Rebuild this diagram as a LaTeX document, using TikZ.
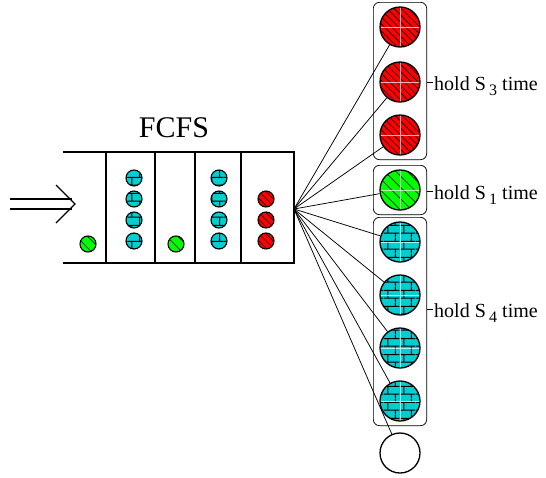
\documentclass[tikz,border=0pt]{standalone}
\usepackage{fontspec}
\setmainfont{Liberation Serif}
\usepackage{xcolor}
\usetikzlibrary{positioning,arrows.meta,patterns,patterns.meta,fit}

\definecolor{hatchred}{RGB}{255,0,0}
\definecolor{hatchgreen}{RGB}{0,255,0}
\definecolor{brickcyan}{RGB}{0,206,209}

% xfig-like brick fill
\tikzdeclarepattern{
  name=brickwall,
  type=uncolored,
  bottom left={(0pt,0pt)},
  top right={(16pt,16pt)},
  tile size={(16pt,16pt)},
  code={
    \draw[line width=1pt] (0pt,4pt) -- (16pt,4pt) (0pt,12pt) -- (16pt,12pt)
      (4pt,4pt) -- (4pt,12pt) (12pt,12pt) -- (12pt,16pt) (12pt,0pt) -- (12pt,4pt);
  }
}

\tikzset{
  bigball/.style={circle, draw, line width=1.3pt, minimum size=40pt, inner sep=0pt},
  smallball/.style={circle, draw, line width=1.1pt, minimum size=16pt, inner sep=0pt},
  redfill/.style={preaction={fill=hatchred}, pattern={Lines[angle=-45,distance=5pt,line width=0.6pt]}},
  greenfill/.style={preaction={fill=hatchgreen}, pattern={Lines[angle=-45,distance=8pt,line width=0.6pt]}},
  cyanfill/.style={preaction={fill=brickcyan}, pattern=brickwall},
  crossmark/.style={path picture={
    \draw[white, line width=0.2pt, opacity=0.7] (path picture bounding box.north) -- (path picture bounding box.south)
      (path picture bounding box.west) -- (path picture bounding box.east);}},
  groupbox/.style={draw, rounded corners=6pt, line width=0.7pt, inner xsep=6pt, inner ysep=4pt},
  fanline/.style={line width=0.75pt},
  holdlabel/.style={anchor=base west, inner sep=0pt, font=\fontsize{20}{22}\selectfont},
}

\newcommand{\holdsub}[1]{\,\raisebox{-5pt}{\fontsize{16}{16}\selectfont #1}}

\begin{document}
\begin{tikzpicture}[x=1pt, y=-1pt]
\useasboundingbox (0,0) rectangle (546,477);

% queue
\draw[line width=1.5pt] (63,152) -- (294,152) -- (294,263) -- (63,263);
\draw[line width=1.5pt] (106,152) -- (106,263) (155,152) -- (155,263)
  (195,152) -- (195,263) (241,152) -- (241,263);
\node[font=\fontsize{30}{32}\selectfont, inner sep=0pt] (fcfs) at (174,128) {FCFS};

% arrival
\coordinate (arrin) at (10,204);
\coordinate (arrout) at (75,204);
\draw[line width=1.3pt] (arrin) ++(0,-5) -- ++(62,0) (arrin) ++(0,5) -- ++(62,0);
\draw[line width=1.3pt] (arrout) ++(-19,-19) -- (arrout) -- ++(-19,19);

% waiting customers
\node[smallball, greenfill] (q1) at (88,244) {};
\node[smallball, cyanfill] (q2a) at (134,178) {};
\node[smallball, cyanfill] (q2b) at (134,199) {};
\node[smallball, cyanfill] (q2c) at (134,220) {};
\node[smallball, cyanfill] (q2d) at (134,241) {};
\node[smallball, greenfill] (q3) at (176,244) {};
\node[smallball, cyanfill] (q4a) at (219,178) {};
\node[smallball, cyanfill] (q4b) at (219,199) {};
\node[smallball, cyanfill] (q4c) at (219,220) {};
\node[smallball, cyanfill] (q4d) at (219,241) {};
\node[smallball, redfill] (q5a) at (266,199) {};
\node[smallball, redfill] (q5b) at (266,220) {};
\node[smallball, redfill] (q5c) at (266,241) {};

% servers
\node[bigball, redfill, crossmark] (r1) at (400,27) {};
\node[bigball, redfill, crossmark] (r2) at (400,82) {};
\node[bigball, redfill, crossmark] (r3) at (400,135) {};
\node[bigball, greenfill, crossmark] (g1) at (400,190) {};
\node[bigball, cyanfill, crossmark] (c1) at (400,242) {};
\node[bigball, cyanfill, crossmark] (c2) at (400,295) {};
\node[bigball, cyanfill, crossmark] (c3) at (400,348) {};
\node[bigball, cyanfill, crossmark] (c4) at (400,401) {};
\node[bigball] (w1) at (400,453) {};

\node[groupbox, fit=(r1)(r3)] (redgrp) {};
\node[groupbox, fit=(g1)] (greengrp) {};
\node[groupbox, fit=(c1)(c4)] (cyangrp) {};

% fan out to servers
\coordinate (fan) at (294,209);
\foreach \s in {r1,r2,r3,g1,c1,c2,c3,c4,w1}
  \draw[fanline] (fan) -- (\s);

% hold times
\coordinate (t3) at (433,82);
\coordinate (t1) at (433,191);
\coordinate (t4) at (433,309);
\draw[fanline] (redgrp.east |- t3) -- (t3);
\draw[fanline] (greengrp.east |- t1) -- (t1);
\draw[fanline] (cyangrp.east |- t4) -- (t4);
\node[holdlabel] (hold3) at (434,90) {hold S\holdsub{3} time};
\node[holdlabel] (hold1) at (434,199) {hold S\holdsub{1} time};
\node[holdlabel] (hold4) at (434,317) {hold S\holdsub{4} time};

\end{tikzpicture}
\end{document}
